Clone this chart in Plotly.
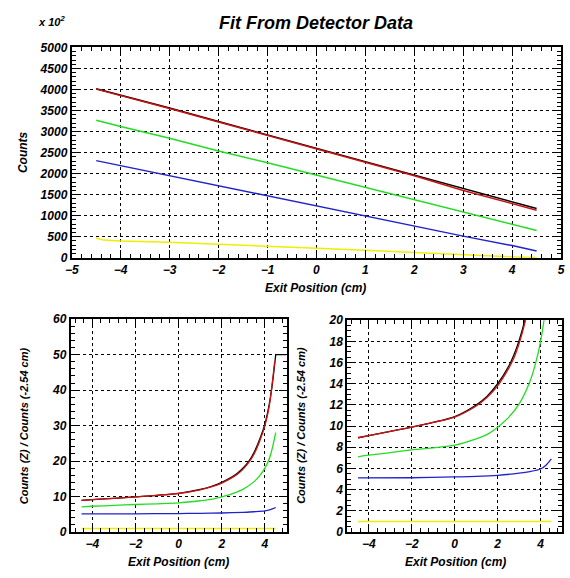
import plotly.graph_objects as go

# ---- top panel: counts vs exit position (units of 10^2) ----
x_top = [-4.5, -4, -3, -2, -1, 0, 1, 2, 3, 4, 4.5]
black_top = [4020, 3870, 3560, 3240, 2920, 2600, 2290, 1975, 1640, 1320, 1170]
red_top = [4010, 3860, 3550, 3230, 2910, 2590, 2270, 1950, 1600, 1280, 1130]
green_top = [3270, 3120, 2840, 2540, 2260, 1970, 1680, 1390, 1090, 800, 650]
blue_top = [2310, 2190, 1960, 1710, 1480, 1230, 1000, 760, 515, 290, 160]

x_yel_top = [-4.5, -4.35, -4, -3.5, -3, -2.5, -2, -1.5, -1, -0.5, 0, 1, 2, 2.5, 3, 3.5, 4, 4.5]
yellow_top = [470, 420, 400, 390, 370, 345, 320, 290, 260, 240, 225, 180, 125, 95, 70, 45, 20, 5]

# ---- bottom panels: ratio Counts(Z) / Counts(-2.54 cm) ----
x_black_r = [-4.5, -4, -3, -2, -1, 0, 1, 1.5, 2, 2.5, 2.75, 3, 3.25, 3.5, 3.75, 4, 4.2, 4.35, 4.5]
black_r = [8.9, 9.1, 9.5, 9.9, 10.35, 10.9, 12.0, 12.8, 14.0, 15.6, 16.7, 18.1, 19.9, 22.5, 26, 30.5, 36, 42, 50]
x_black_tail = [4.5, 5]
black_tail = [50, 50]
x_red_r = [-4.5, -4, -3, -2, -1, 0, 1, 1.5, 2, 2.5, 2.75, 3, 3.25, 3.5, 3.75, 4, 4.2, 4.45]
red_r = [8.9, 9.1, 9.5, 9.9, 10.35, 10.85, 11.9, 12.7, 13.8, 15.4, 16.4, 17.8, 19.6, 22, 25.5, 30, 35.5, 48]
x_green_r = [-4.5, -4, -3, -2, -1, 0, 1, 1.5, 2, 2.5, 3, 3.5, 3.75, 4, 4.25, 4.5]
green_r = [7.1, 7.25, 7.5, 7.75, 7.95, 8.2, 8.8, 9.2, 9.9, 10.8, 12.1, 14.2, 15.8, 18, 21.5, 28]
x_blue_r = [-4.5, -2, 0, 1, 2, 3, 3.5, 4, 4.25, 4.5]
blue_r = [5.1, 5.12, 5.2, 5.25, 5.35, 5.55, 5.7, 5.95, 6.3, 6.9]
x_yellow_r = [-4.5, 4.5]
yellow_r = [1.0, 1.0]

C_BLACK = "#000000"
C_RED = "#cc1111"
C_GREEN = "#22dd22"
C_BLUE = "#2222cc"
C_YELLOW = "#eeee00"

FONT = "Liberation Sans"

fig = go.Figure()


def add(x, y, color, xa, ya, width=1.5, shape="linear"):
    fig.add_trace(go.Scatter(x=x, y=y, mode="lines", xaxis=xa, yaxis=ya,
                             line=dict(color=color, width=width, shape=shape,
                                       smoothing=0.8 if shape == "spline" else None),
                             showlegend=False, hoverinfo="skip"))


add(x_top, black_top, C_BLACK, "x", "y")
add(x_top, red_top, C_RED, "x", "y")
add(x_top, green_top, C_GREEN, "x", "y")
add(x_top, blue_top, C_BLUE, "x", "y")
add(x_yel_top, yellow_top, C_YELLOW, "x", "y")

for xa, ya in (("x2", "y2"), ("x3", "y3")):
    add(x_black_r, black_r, C_BLACK, xa, ya, 1.3, "spline")
    add(x_black_tail, black_tail, C_BLACK, xa, ya, 1.3)
    add(x_red_r, red_r, C_RED, xa, ya, 1.3, "spline")
    add(x_green_r, green_r, C_GREEN, xa, ya, 1.3, "spline")
    add(x_blue_r, blue_r, C_BLUE, xa, ya, 1.3, "spline")
    add(x_yellow_r, yellow_r, C_YELLOW, xa, ya, 1.5)

tickfont = dict(family=FONT, size=12, color="black", weight="bold", style="italic")


def axis(domain, anchor, rng, dtick, minor_dtick, ticklen=8):
    return dict(domain=domain, anchor=anchor, range=rng, dtick=dtick, tick0=0,
                showline=True, linecolor="black", linewidth=2, mirror="ticks",
                ticks="inside", ticklen=ticklen, tickwidth=1, tickcolor="black",
                showgrid=True, gridcolor="black", griddash="dot", gridwidth=1,
                zeroline=False, tickfont=tickfont,
                minor=dict(dtick=minor_dtick, ticks="inside", ticklen=4,
                           tickcolor="black", tickwidth=1, showgrid=False))


W, H = 570, 578
fig.update_layout(
    width=W, height=H,
    margin=dict(l=0, r=0, t=0, b=0),
    paper_bgcolor="white", plot_bgcolor="white",
    xaxis=axis([66 / W, 565 / W], "y", [-5, 5], 1, 0.2),
    yaxis=axis([1 - 257 / H, 1 - 41.5 / H], "x", [0, 5000], 500, 100),
    xaxis2=axis([65 / W, 285 / W], "y2", [-5, 5], 2, 0.4),
    yaxis2=axis([1 - 538 / H, 1 - 320 / H], "x2", [0, 60], 10, 2),
    xaxis3=axis([347 / W, 566 / W], "y3", [-5, 5], 2, 0.4),
    yaxis3=axis([1 - 538 / H, 1 - 321 / H], "x3", [0, 20], 2, 0.5),
)

labfont = dict(family=FONT, size=12, color="black", weight="bold", style="italic")


def note(text, x, y, size=12, angle=0):
    f = dict(labfont)
    f["size"] = size
    fig.add_annotation(text=text, x=x / W, y=1 - y / H, xref="paper", yref="paper",
                       showarrow=False, textangle=angle, font=f,
                       xanchor="center", yanchor="middle")


note("Fit From Detector Data", 315, 16, size=18)
note("x 10<sup>2</sup>", 45, 14, size=11)
note("Counts", 17, 149, angle=-90)
note("Exit Position (cm)", 315, 288)
note("Counts (Z) / Counts (-2.54 cm)", 17, 429, size=11, angle=-90)
note("Counts (Z) / Counts (-2.54 cm)", 299, 429, size=11, angle=-90)
note("Exit Position (cm)", 175, 569)
note("Exit Position (cm)", 457, 569)

fig.write_html("out.html")
